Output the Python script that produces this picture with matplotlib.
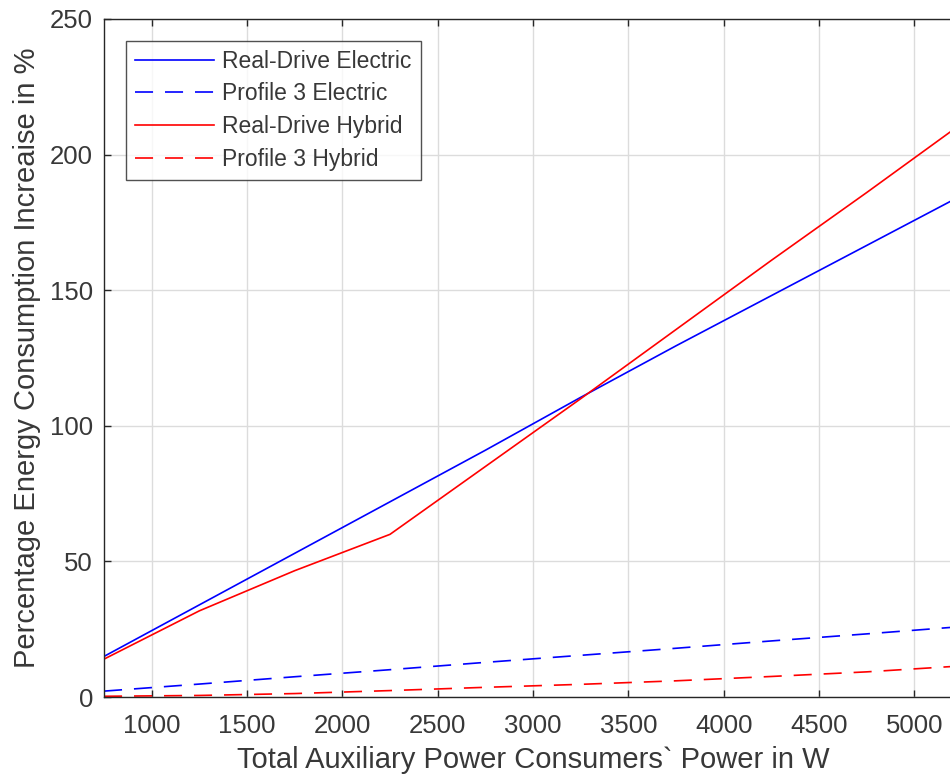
import matplotlib
matplotlib.use("Agg")
import matplotlib.pyplot as plt

power_w = [750, 1250, 1750, 2250, 2750, 3250, 3750, 4250, 4750, 5250]
real_drive_electric = [15.0, 34.0, 53.0, 72.0, 91.0, 110.5, 129.5, 148.0, 166.5, 185.0]
profile3_electric = [2.2, 4.8, 7.5, 10.1, 12.8, 15.4, 18.0, 20.7, 23.3, 26.0]
real_drive_hybrid = [14.0, 31.8, 46.6, 60.0, 85.0, 110.0, 135.5, 161.0, 186.0, 211.5]
profile3_hybrid = [0.3, 0.6, 1.3, 2.4, 3.6, 4.7, 6.0, 7.6, 9.3, 11.5]

x_ticks = [1000, 1500, 2000, 2500, 3000, 3500, 4000, 4500, 5000]
y_ticks = [0, 50, 100, 150, 200, 250]

plt.rcParams["font.family"] = ["Liberation Sans", "DejaVu Sans"]
text_color = "#383838"
axis_color = "#262626"

fig = plt.figure(figsize=(9.5, 7.78), dpi=100)
ax = fig.add_axes([0.1095, 0.104, 0.9031, 0.8716])

lw = 1.2
dash = (13 / lw, 8.6 / lw)
ax.plot(power_w, real_drive_electric, color="#0000ff", lw=lw, label="Real-Drive Electric")
ax.plot(power_w, profile3_electric, color="#0000ff", lw=lw, dashes=dash, label="Profile 3 Electric")
ax.plot(power_w, real_drive_hybrid, color="#ff0000", lw=lw, label="Real-Drive Hybrid")
ax.plot(power_w, profile3_hybrid, color="#ff0000", lw=lw, dashes=dash, label="Profile 3 Hybrid")

ax.set_xlim(750, 5250)
ax.set_ylim(0, 250)
ax.set_xticks(x_ticks)
ax.set_yticks(y_ticks)
ax.grid(True, color="#dcdcdc", linewidth=1.0)
ax.set_axisbelow(True)
ax.tick_params(direction="in", top=True, right=True, length=5, width=1.0,
               labelsize=18.5, colors=axis_color, labelcolor=text_color)
ax.tick_params(axis="x", pad=12)
ax.tick_params(axis="y", pad=8)
for side in ("top", "bottom", "left", "right"):
    ax.spines[side].set_color(axis_color)
    ax.spines[side].set_linewidth(1.0)

ax.set_xlabel("Total Auxiliary Power Consumers` Power in W", fontsize=21,
              color=text_color, labelpad=6)
ax.set_ylabel("Percentage Energy Consumption Increaise in %", fontsize=21,
              color=text_color, labelpad=6)

leg = ax.legend(loc="upper left", bbox_to_anchor=(0.0255, 0.968), fontsize=16.5,
                frameon=True, fancybox=False, edgecolor=axis_color,
                handlelength=3.45, handletextpad=0.35, borderpad=0.4,
                labelspacing=0.42, borderaxespad=0)
leg.get_frame().set_linewidth(1.0)
for t in leg.get_texts():
    t.set_color(text_color)

fig.savefig("out.png", dpi=100)
